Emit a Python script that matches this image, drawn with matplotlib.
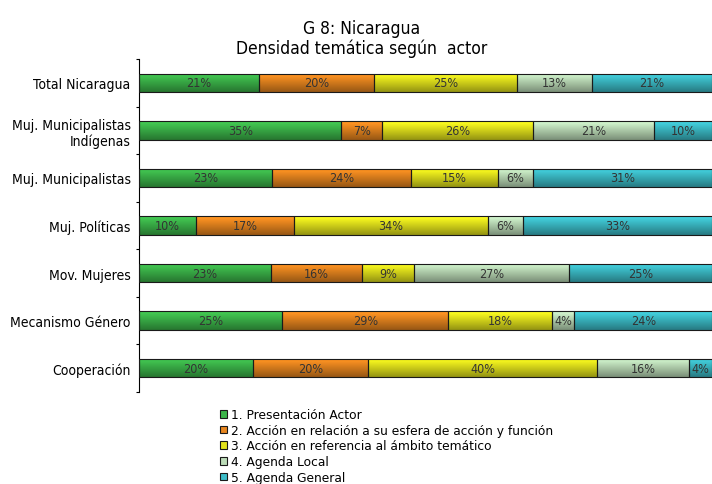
import numpy as np
import matplotlib.pyplot as plt
import matplotlib.colors as mcolors
from matplotlib.patches import Patch

actores = ['Total Nicaragua', 'Muj. Municipalistas\nIndígenas', 'Muj. Municipalistas',
           'Muj. Políticas', 'Mov. Mujeres', 'Mecanismo Género', 'Cooperación']
series = ['1. Presentación Actor',
          '2. Acción en relación a su esfera de acción y función',
          '3. Acción en referencia al ámbito temático',
          '4. Agenda Local',
          '5. Agenda General']
presentacion = [21, 35, 23, 10, 23, 25, 20]
esfera = [20, 7, 24, 17, 16, 29, 20]
ambito = [25, 26, 15, 34, 9, 18, 40]
local = [13, 21, 6, 6, 27, 4, 16]
general = [21, 10, 31, 33, 25, 24, 4]

colores = ['#3cb54a', '#e8861f', '#e3e31c', '#bcdcb8', '#3cbcc8']

cond = dict(family='DejaVu Sans', stretch='condensed')

fig = plt.figure(figsize=(7.12, 4.85), dpi=100)
ax = fig.add_axes([0.195, 0.1897, 0.805, 0.6866])

datos = np.array([presentacion, esfera, ambito, local, general], dtype=float)
totales = datos.sum(axis=0)
y = np.arange(len(actores))
izq = np.zeros(len(actores))
for i, fila in enumerate(datos):
    ancho = fila / totales
    barras = ax.barh(y, ancho, left=izq, height=0.39, color=colores[i],
                     edgecolor='#1a1a1a', linewidth=0.8, label=series[i], zorder=2)
    base = np.array(mcolors.to_rgb(colores[i]))
    grad = np.linspace(1.15, 0.65, 64)[:, None, None] * base[None, None, :]
    grad = np.clip(grad, 0, 1)
    for b, v, l, w in zip(barras, fila, izq, ancho):
        im = ax.imshow(grad, extent=[l, l + w, b.get_y() + b.get_height(), b.get_y()],
                       aspect='auto', zorder=2.5, interpolation='bilinear')
        im.set_clip_path(b)
        ax.text(l + w / 2, b.get_y() + b.get_height() / 2, f'{v:.0f}%',
                ha='center', va='center', fontsize=9, color='#333333', zorder=4, **cond)
    for b in barras:
        b.set_facecolor('none')
        b.set_zorder(3)
    izq = izq + ancho

ax.set_xlim(0, 1)
ax.set_ylim(len(actores) - 0.5, -0.5)
ax.set_yticks(y)
ax.set_yticklabels(actores, fontsize=10, **cond)
ax.set_yticks(np.arange(-0.5, len(actores)), minor=True)
ax.tick_params(axis='y', which='major', length=0, pad=6)
ax.tick_params(axis='y', which='minor', length=2.5, width=0.8, direction='out')
ax.set_xticks([])
for s in ['top', 'right', 'bottom']:
    ax.spines[s].set_visible(False)
ax.spines['left'].set_linewidth(0.8)

fig.text(0.508, 0.920, 'G 8: Nicaragua\nDensidad temática según  actor', ha='center',
         va='center', fontsize=12.5, linespacing=1.1, **cond)

handles = [Patch(facecolor=c, edgecolor='#1a1a1a', linewidth=0.8) for c in colores]
fig.legend(handles, series, loc='upper left', bbox_to_anchor=(220 / 712, 1 - 409 / 485),
           frameon=False, fontsize=8.8, handlelength=0.6, handleheight=0.6,
           handletextpad=0.3, labelspacing=0.22, borderpad=0, borderaxespad=0)

fig.savefig('out.png', dpi=100)
